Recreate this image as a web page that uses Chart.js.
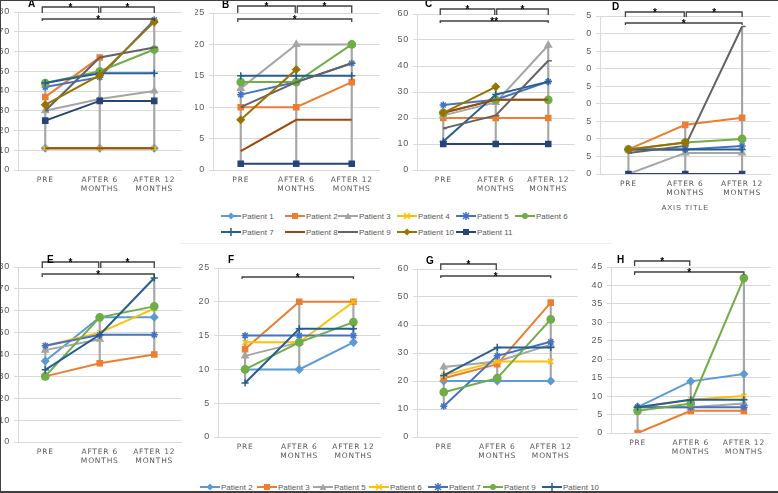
<!DOCTYPE html>
<html>
<head>
<meta charset="utf-8">
<script src="https://cdn.jsdelivr.net/npm/chart.js@4.4.1/dist/chart.umd.min.js"></script>
<style>
  body { margin: 0; background: #fff; }
  #fig { position: relative; width: 778px; height: 493px; overflow: hidden; background: #fff;
         font-family: "Liberation Sans", Arial, sans-serif; }
  #fig canvas { position: absolute; }
  .leg { position: absolute; display: flex; align-items: center; font-size: 8px; color: #595959; white-space: nowrap; height: 10px; }
  .leg svg { margin-right: 1px; }
  .rule { position: absolute; background: #404040; }
</style>
</head>
<body>
<div id="fig"></div>
<script>
const categories = [['PRE'], ['AFTER 6', 'MONTHS'], ['AFTER 12', 'MONTHS']];

// top row, panels A-D
const topPatients = ['Patient 1', 'Patient 2', 'Patient 3', 'Patient 4', 'Patient 5', 'Patient 6',
                     'Patient 7', 'Patient 8', 'Patient 9', 'Patient 10', 'Patient 11'];
const panelA = [[11, 11, 11], [37, 57, null], [30, 36, 40], [11, 11, 11], [42, 47, 76], [44, 50, 61],
                [44, 49, 49], [11, 11, 11], [30, 57, 62], [33, 48, 75], [25, 35, 35]];
const panelB = [[null, null, null], [10, 10, 14], [13, 20, 20], [null, null, null], [12, 14, 17], [14, 14, 20],
                [15, 15, 15], [3, 8, 8], [10, 14, 17], [8, 16, null], [1, 1, 1]];
const panelC = [[null, null, null], [20, 20, 20], [21, 26, 48], [null, null, null], [25, 27, 34], [22, 27, 27],
                [11, 29, 34], [22, 27, 27], [16, 21, 42], [22, 32, null], [10, 10, 10]];
const panelD = [[null, null, null], [7, 14, 16], [0, 6, 6], [null, null, null], [7, 7, 8], [7, 9, 10],
                [7, 7, 7], [null, null, null], [6, 8, 42], [7, 9, null], [0, 0, 0]];

// bottom row, panels E-H
const bottomPatients = ['Patient 2', 'Patient 3', 'Patient 5', 'Patient 6', 'Patient 7', 'Patient 9', 'Patient 10'];
const panelE = [[37, 57, 57], [30, 36, 40], [42, 47, null], [44, 50, 61], [44, 49, 49], [30, 57, 62], [33, 49, 75]];
const panelF = [[10, 10, 14], [13, 20, 20], [12, 14, null], [14, 14, 20], [15, 15, 15], [10, 14, 17], [8, 16, 16]];
const panelG = [[20, 20, 20], [21, 26, 48], [25, 27, 33], [22, 27, 27], [11, 29, 34], [16, 21, 42], [22, 32, 32]];
const panelH = [[7, 14, 16], [0, 6, 6], [7, 7, 8], [7, 9, 10], [7, 7, 7], [6, 8, 42], [7, 9, 9]];

const axisMax = [80, 25, 60, 45, 80, 25, 60, 45];
const axisStep = [10, 5, 10, 5, 10, 5, 10, 5];

// styles
const topColors = ['#5B9BD5', '#ED7D31', '#A5A5A5', '#FFC000', '#4472C4', '#70AD47',
                   '#255E91', '#9E480E', '#636363', '#997300', '#264478'];
const topMarkers = ['rectRot', 'rect', 'triangle', 'crossRot', 'star', 'circle',
                    'cross', false, 'dash', 'rectRot', 'rect'];
const bottomColors = ['#5B9BD5', '#ED7D31', '#A5A5A5', '#FFC000', '#4472C4', '#70AD47', '#255E91'];
const bottomMarkers = ['rectRot', 'rect', 'triangle', 'crossRot', 'star', 'circle', 'cross'];

const panels = [
  { rows: panelA, top: true, left: 0, y0: 0, w: 187, h: 200, yW: 18, padTop: 12, xH: 30, letter: ['A', 28, 4],
    brackets: [[0, 1, 7, 6, '*'], [1, 2, 7, 6, '*'], [0, 2, 19, 2, '*']] },
  { rows: panelB, top: true, left: 195, y0: 0, w: 190, h: 200, yW: 18, padTop: 13, xH: 30, letter: ['B', 222, 5],
    brackets: [[0, 1, 6, 7, '*'], [1, 2, 6, 7, '*'], [0, 2, 19, 3, '*']] },
  { rows: panelC, top: true, left: 390, y0: 0, w: 190, h: 200, yW: 27, padTop: 14, xH: 30, letter: ['C', 425, 4],
    brackets: [[0, 1, 9, 6, '*'], [1, 2, 9, 6, '*'], [0, 2, 21, 2, '**']] },
  { rows: panelD, top: true, left: 585, y0: 0, w: 191, h: 212, yW: 15, padTop: 16, xH: 38, letter: ['D', 612, 7],
    brackets: [[0, 1, 12, 5, '*'], [1, 2, 12, 5, '*'], [0, 2, 23, 2, '*']], title: 'AXIS TITLE' },
  { rows: panelE, top: false, left: 0, y0: 252, w: 187, h: 220, yW: 18, padTop: 15, xH: 30, letter: ['E', 47, 260],
    brackets: [[0, 1, 262, 6, '*'], [1, 2, 262, 6, '*'], [0, 2, 274, 3, '*']] },
  { rows: panelF, top: false, left: 195, y0: 252, w: 191, h: 215, yW: 23, padTop: 16, xH: 30, letter: ['F', 228, 260],
    brackets: [[0, 2, 277, 2, '*']] },
  { rows: panelG, top: false, left: 390, y0: 252, w: 193, h: 215, yW: 27, padTop: 17, xH: 30, letter: ['G', 426, 261],
    brackets: [[0, 1, 264, 6, '*'], [0, 2, 276, 2, '*']] },
  { rows: panelH, top: false, left: 585, y0: 252, w: 191, h: 211, yW: 26, padTop: 15, xH: 30, letter: ['H', 617, 260],
    brackets: [[0, 1, 261, 5, '*'], [0, 2, 272, 3, '*']] }
];

// significance brackets and panel letter
const bracketPlugin = {
  id: 'brackets',
  beforeDraw(chart) { chart.ctx.letterSpacing = '0.8px'; },
  afterDraw(chart, args, opts) {
    const ctx = chart.ctx;
    ctx.letterSpacing = '0px';
    const xs = chart.scales.x;
    const p = opts.panel;
    ctx.save();
    ctx.strokeStyle = '#404040';
    ctx.lineWidth = 1.3;
    ctx.fillStyle = '#000';
    ctx.font = 'bold 10px "Liberation Sans", Arial, sans-serif';
    ctx.textAlign = 'center';
    ctx.textBaseline = 'middle';
    p.brackets.forEach(([a, b, y, d, t]) => {
      const xa = xs.getPixelForValue(a) + (a > 0 ? 1 : -3);
      const xb = xs.getPixelForValue(b) + (b < 2 ? -1 : 0);
      const yy = y - p.y0;
      ctx.beginPath();
      ctx.moveTo(xa, yy + d);
      ctx.lineTo(xa, yy);
      ctx.lineTo(xb, yy);
      ctx.lineTo(xb, yy + d);
      ctx.stroke();
      ctx.fillText(t, (xa + xb) / 2, yy + 1);
    });
    const [txt, lx, ly] = p.letter;
    ctx.textAlign = 'left';
    ctx.fillText(txt, lx - p.left, ly - p.y0);
    ctx.restore();
  }
};

function highLow(rows) {
  return categories.map((_, i) => {
    const v = rows.map(r => r[i]).filter(x => x !== null);
    return [Math.min(...v), Math.max(...v)];
  });
}

const fig = document.getElementById('fig');

panels.forEach((p, k) => {
  const names = p.top ? topPatients : bottomPatients;
  const colors = p.top ? topColors : bottomColors;
  const markers = p.top ? topMarkers : bottomMarkers;
  const cv = document.createElement('canvas');
  cv.width = p.w;
  cv.height = p.h;
  cv.style.left = p.left + 'px';
  cv.style.top = p.y0 + 'px';
  fig.appendChild(cv);

  const datasets = p.rows.map((row, i) => ({
    type: 'line',
    label: names[i],
    data: row,
    borderColor: colors[i],
    backgroundColor: colors[i],
    pointBackgroundColor: colors[i],
    pointBorderColor: colors[i],
    borderWidth: 2,
    pointStyle: markers[i] || 'circle',
    pointRadius: markers[i] ? (markers[i] === 'rectRot' ? 3.5 : 3.6) : 0,
    pointBorderWidth: 1.5,
    tension: 0,
    order: 50 - i
  }));
  datasets.push({
    type: 'bar',
    label: 'high-low',
    data: highLow(p.rows),
    backgroundColor: '#A6A6A6',
    barThickness: 1.5,
    order: 1000
  });

  new Chart(cv, {
    data: { labels: categories, datasets },
    options: {
      responsive: false,
      animation: false,
      layout: { padding: { top: p.padTop, left: 0, right: 0, bottom: 0 } },
      plugins: { legend: { display: false }, tooltip: { enabled: false }, brackets: { panel: p } },
      scales: {
        x: {
          type: 'category',
          offset: true,
          grid: { display: false, drawTicks: false },
          border: { color: '#D9D9D9' },
          ticks: { color: '#595959', font: { size: 7.5, family: '"DejaVu Sans", sans-serif' },
                   padding: 6, maxRotation: 0, autoSkip: false },
          title: { display: !!p.title, text: p.title || '', color: '#595959',
                   font: { size: 7.5, family: '"Liberation Sans Narrow", "Liberation Sans", sans-serif' },
                   padding: { top: 0, bottom: 0 } },
          afterFit: s => { s.height = p.xH; }
        },
        y: {
          min: 0,
          max: axisMax[k],
          ticks: { stepSize: axisStep[k], color: '#595959', padding: 4,
                   font: { size: 9, family: '"Liberation Sans", Arial, sans-serif' } },
          grid: { color: '#D9D9D9', tickLength: 4 },
          border: { color: '#D9D9D9' },
          afterFit: s => { s.width = p.yW; }
        }
      }
    },
    plugins: [bracketPlugin]
  });
});

// legends
function markerSvg(style, color) {
  let m = '';
  const c = `stroke="${color}" stroke-width="1.5"`;
  if (style === 'circle') m = `<circle cx="10" cy="5" r="3" fill="${color}"/>`;
  else if (style === 'rect') m = `<rect x="7" y="2" width="6" height="6" fill="${color}"/>`;
  else if (style === 'rectRot') m = `<polygon points="10,1.5 13.5,5 10,8.5 6.5,5" fill="${color}"/>`;
  else if (style === 'triangle') m = `<polygon points="10,1.5 13.5,8 6.5,8" fill="${color}"/>`;
  else if (style === 'crossRot') m = `<path d="M7,2 L13,8 M13,2 L7,8" ${c}/>`;
  else if (style === 'cross') m = `<path d="M10,1 L10,9" ${c}/>`;
  else if (style === 'star') m = `<path d="M7,2 L13,8 M13,2 L7,8 M10,1 L10,9" ${c}/>`;
  return `<svg width="20" height="10"><line x1="0" y1="5" x2="20" y2="5" stroke="${color}" stroke-width="2"/>${m}</svg>`;
}

function addLegend(names, colors, markers, spots) {
  names.forEach((n, i) => {
    const d = document.createElement('div');
    d.className = 'leg';
    d.style.left = spots[i][0] + 'px';
    d.style.top = (spots[i][1] - 5) + 'px';
    d.innerHTML = markerSvg(markers[i], colors[i]) + '<span>' + n + '</span>';
    fig.appendChild(d);
  });
}

addLegend(topPatients, topColors, topMarkers,
  [[221, 216], [285, 216], [338, 216], [397, 216], [456, 216], [515, 216],
   [221, 232], [285, 232], [338, 232], [397, 232], [456, 232]]);
addLegend(bottomPatients, bottomColors, bottomMarkers,
  [[200, 487], [257, 487], [313, 487], [369, 487], [428, 487], [483, 487], [542, 487]]);

// faint rule under first legend and outer frame
function rule(l, t, w, h, c) {
  const d = document.createElement('div');
  d.className = 'rule';
  Object.assign(d.style, { left: l + 'px', top: t + 'px', width: w + 'px', height: h + 'px' });
  if (c) d.style.background = c;
  fig.appendChild(d);
}
rule(179, 243, 434, 1, '#EFEFEF');
rule(0, 0, 1, 493);
rule(0, 0, 778, 1);
rule(0, 491, 778, 2);
</script>
</body>
</html>
